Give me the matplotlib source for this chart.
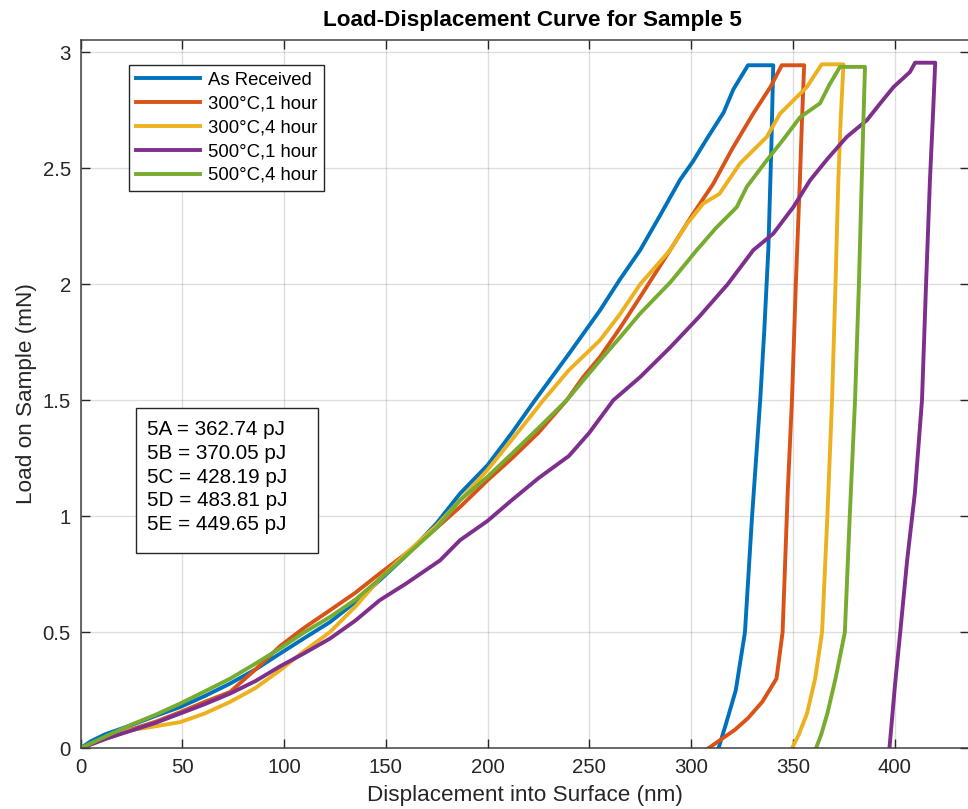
import matplotlib
matplotlib.use("Agg")
import matplotlib.pyplot as plt
from matplotlib.patches import Rectangle
from matplotlib.ticker import FuncFormatter, MultipleLocator

plt.rcParams['font.family'] = ['Liberation Sans', 'DejaVu Sans']

# Indentation data: displacement (nm) and load (mN), loading -> hold -> unloading
labels = ['As Received', '300\u00b0C,1 hour', '300\u00b0C,4 hour',
          '500\u00b0C,1 hour', '500\u00b0C,4 hour']
colors = ['#0072BD', '#D95319', '#EDB120', '#7E2F8E', '#77AC30']

disp_as_received = [0, 5, 12, 25, 37, 49, 61, 73.5, 86, 98, 110, 122.6, 135, 147, 160,
                    175, 186.5, 200, 212, 223.3, 240, 255.3, 265, 275, 285, 294.6, 301,
                    308, 316, 320.8, 328, 340.4, 339.5, 338, 336, 334, 330, 326.5, 322,
                    317, 313.5]
load_as_received = [0, 0.03, 0.06, 0.1, 0.14, 0.178, 0.225, 0.279, 0.34, 0.408, 0.475,
                    0.544, 0.63, 0.724, 0.83, 0.97, 1.098, 1.22, 1.36, 1.5, 1.70, 1.888,
                    2.02, 2.147, 2.30, 2.45, 2.53, 2.63, 2.74, 2.84, 2.944, 2.944, 2.6,
                    2.15, 1.8, 1.5, 1.0, 0.5, 0.25, 0.1, 0]

disp_300_1h = [0, 12, 24.5, 37, 49, 61, 73.5, 86, 98, 110, 122.6, 135, 147, 160, 175,
               186.5, 200, 212, 225, 238.9, 247, 255.3, 265, 275, 289.7, 300, 311, 320,
               330.6, 339, 344.6, 355.6, 354.5, 353.5, 351.5, 349.6, 347.5, 345, 342,
               335, 328, 321.6, 308.5]
load_300_1h = [0, 0.04, 0.08, 0.115, 0.156, 0.2, 0.243, 0.34, 0.44, 0.52, 0.595, 0.67,
               0.753, 0.84, 0.95, 1.04, 1.155, 1.25, 1.36, 1.5, 1.60, 1.687, 1.81, 1.945,
               2.147, 2.29, 2.434, 2.58, 2.736, 2.85, 2.944, 2.944, 2.7, 2.45, 2.0, 1.5,
               1.1, 0.5, 0.3, 0.2, 0.13, 0.08, 0]

disp_300_4h = [0, 12, 24.5, 37, 49, 61, 73.5, 86, 98, 110, 122.6, 135, 147, 160, 175,
               186.5, 200, 212, 227.4, 240, 255.3, 265, 275, 289.7, 298, 306, 314, 324,
               337.2, 343.7, 350, 356.9, 364.2, 374.9, 373.5, 372.4, 371, 369.3, 367,
               364.4, 361, 357, 353, 349.6]
load_300_4h = [0, 0.04, 0.078, 0.095, 0.113, 0.15, 0.2, 0.26, 0.336, 0.42, 0.501, 0.61,
               0.73, 0.84, 0.96, 1.069, 1.2, 1.33, 1.5, 1.63, 1.759, 1.87, 2.0, 2.147,
               2.26, 2.348, 2.39, 2.52, 2.635, 2.735, 2.79, 2.85, 2.948, 2.948, 2.7,
               2.45, 2.0, 1.5, 1.0, 0.5, 0.3, 0.15, 0.06, 0]

disp_500_1h = [0, 12, 24.5, 37, 49, 61, 73.5, 86, 98, 110, 122.6, 135, 147, 160, 176.7,
               186.5, 200, 212, 225, 240, 250, 261.8, 275, 290, 304, 318, 330.6, 340.4,
               350.3, 358.5, 367, 376.5, 386.4, 393, 399.5, 407.6, 410.1, 420, 419,
               417.4, 415.5, 413.5, 410, 406.2, 402.8, 400.3, 397.5]
load_500_1h = [0, 0.04, 0.075, 0.11, 0.15, 0.19, 0.236, 0.29, 0.353, 0.41, 0.473, 0.55,
               0.638, 0.71, 0.81, 0.897, 0.98, 1.07, 1.164, 1.26, 1.36, 1.5, 1.6, 1.73,
               1.86, 2.0, 2.147, 2.218, 2.333, 2.448, 2.54, 2.635, 2.707, 2.78, 2.85,
               2.915, 2.955, 2.955, 2.75, 2.448, 2.0, 1.5, 1.1, 0.81, 0.5, 0.279, 0]

disp_500_4h = [0, 12, 24.5, 37, 49, 61, 73.5, 86, 98, 110, 122.6, 135, 147, 160, 175,
               186.5, 200, 212, 225, 238.9, 255.3, 265, 275, 290, 302.8, 312, 322.5,
               327.4, 337.2, 345, 353.6, 363.4, 368, 373.2, 385.5, 384.7, 383.9, 382.5,
               380.6, 378, 375.6, 371, 367, 364, 361.4]
load_500_4h = [0, 0.05, 0.1, 0.145, 0.193, 0.245, 0.3, 0.365, 0.43, 0.5, 0.566, 0.64,
               0.73, 0.83, 0.95, 1.069, 1.17, 1.27, 1.38, 1.5, 1.672, 1.77, 1.874, 2.01,
               2.147, 2.24, 2.333, 2.42, 2.534, 2.62, 2.72, 2.78, 2.86, 2.937, 2.937,
               2.7, 2.448, 2.0, 1.5, 1.0, 0.5, 0.3, 0.15, 0.06, 0]

sample_ids = ['5A', '5B', '5C', '5D', '5E']
energies_pJ = [362.74, 370.05, 428.19, 483.81, 449.65]

series = [(disp_as_received, load_as_received), (disp_300_1h, load_300_1h),
          (disp_300_4h, load_300_4h), (disp_500_1h, load_500_1h),
          (disp_500_4h, load_500_4h)]

W, H = 968, 809
fig = plt.figure(figsize=(W / 100, H / 100), dpi=100)
ax_left, ax_right, ax_top, ax_bottom = 80.5, 969.0, 39.5, 748.3
ax = fig.add_axes([ax_left / W, 1 - ax_bottom / H,
                   (ax_right - ax_left) / W, (ax_bottom - ax_top) / H])

for (x, y), lab, c in zip(series, labels, colors):
    ax.plot(x, y, color=c, lw=2.8, label=lab, solid_joinstyle='round')

ax.set_xlim(0, 436.6)
ax.set_ylim(0, 3.055)
ax.xaxis.set_major_locator(MultipleLocator(50))
ax.yaxis.set_major_locator(MultipleLocator(0.5))
ax.yaxis.set_major_formatter(FuncFormatter(lambda v, p: f"{v:g}"))
ax.grid(True, color='#262626', alpha=0.15, lw=1.0)
ax.set_axisbelow(True)
ax.tick_params(direction='in', length=6.5, width=1.0, color='#262626',
               top=True, right=True, labelsize=14.7, labelcolor='#262626', pad=7)
for s in ax.spines.values():
    s.set_color('#404040')
    s.set_linewidth(1.1)

ax.set_xlabel('Displacement into Surface (nm)', fontsize=16.2, color='#262626', labelpad=6)
ax.set_ylabel('Load on Sample (mN)', fontsize=16.2, color='#262626', labelpad=4)
ax.set_title('Load-Displacement Curve for Sample 5', fontsize=16.2, fontweight='bold',
             x=0.5087, pad=10)

leg = ax.legend(loc='upper left', bbox_to_anchor=(48.8 / 888.5, 1 - 25.5 / 708.8),
                fontsize=13.3, handlelength=3.45, handletextpad=0.45, borderpad=0.36,
                labelspacing=0.37, borderaxespad=0, fancybox=False, framealpha=1,
                edgecolor='#262626')
leg.get_frame().set_linewidth(1.0)

# energy summary box
box_px = (136.0, 408.3, 318.3, 553.3)
ax.add_patch(Rectangle(((box_px[0] - ax_left) / (ax_right - ax_left),
                        (ax_bottom - box_px[3]) / (ax_bottom - ax_top)),
                       (box_px[2] - box_px[0]) / (ax_right - ax_left),
                       (box_px[3] - box_px[1]) / (ax_bottom - ax_top),
                       transform=ax.transAxes, facecolor='white', edgecolor='#262626',
                       lw=1.0, zorder=5))
for i, (sid, e) in enumerate(zip(sample_ids, energies_pJ)):
    yc = 429.3 + i * 23.9
    ax.text((146.7 - ax_left) / (ax_right - ax_left), (ax_bottom - yc) / (ax_bottom - ax_top),
            f"{sid} = {e:.2f} pJ", transform=ax.transAxes, fontsize=14.9,
            va='center', ha='left', color='black', zorder=6)

fig.savefig('out.png', dpi=100)
